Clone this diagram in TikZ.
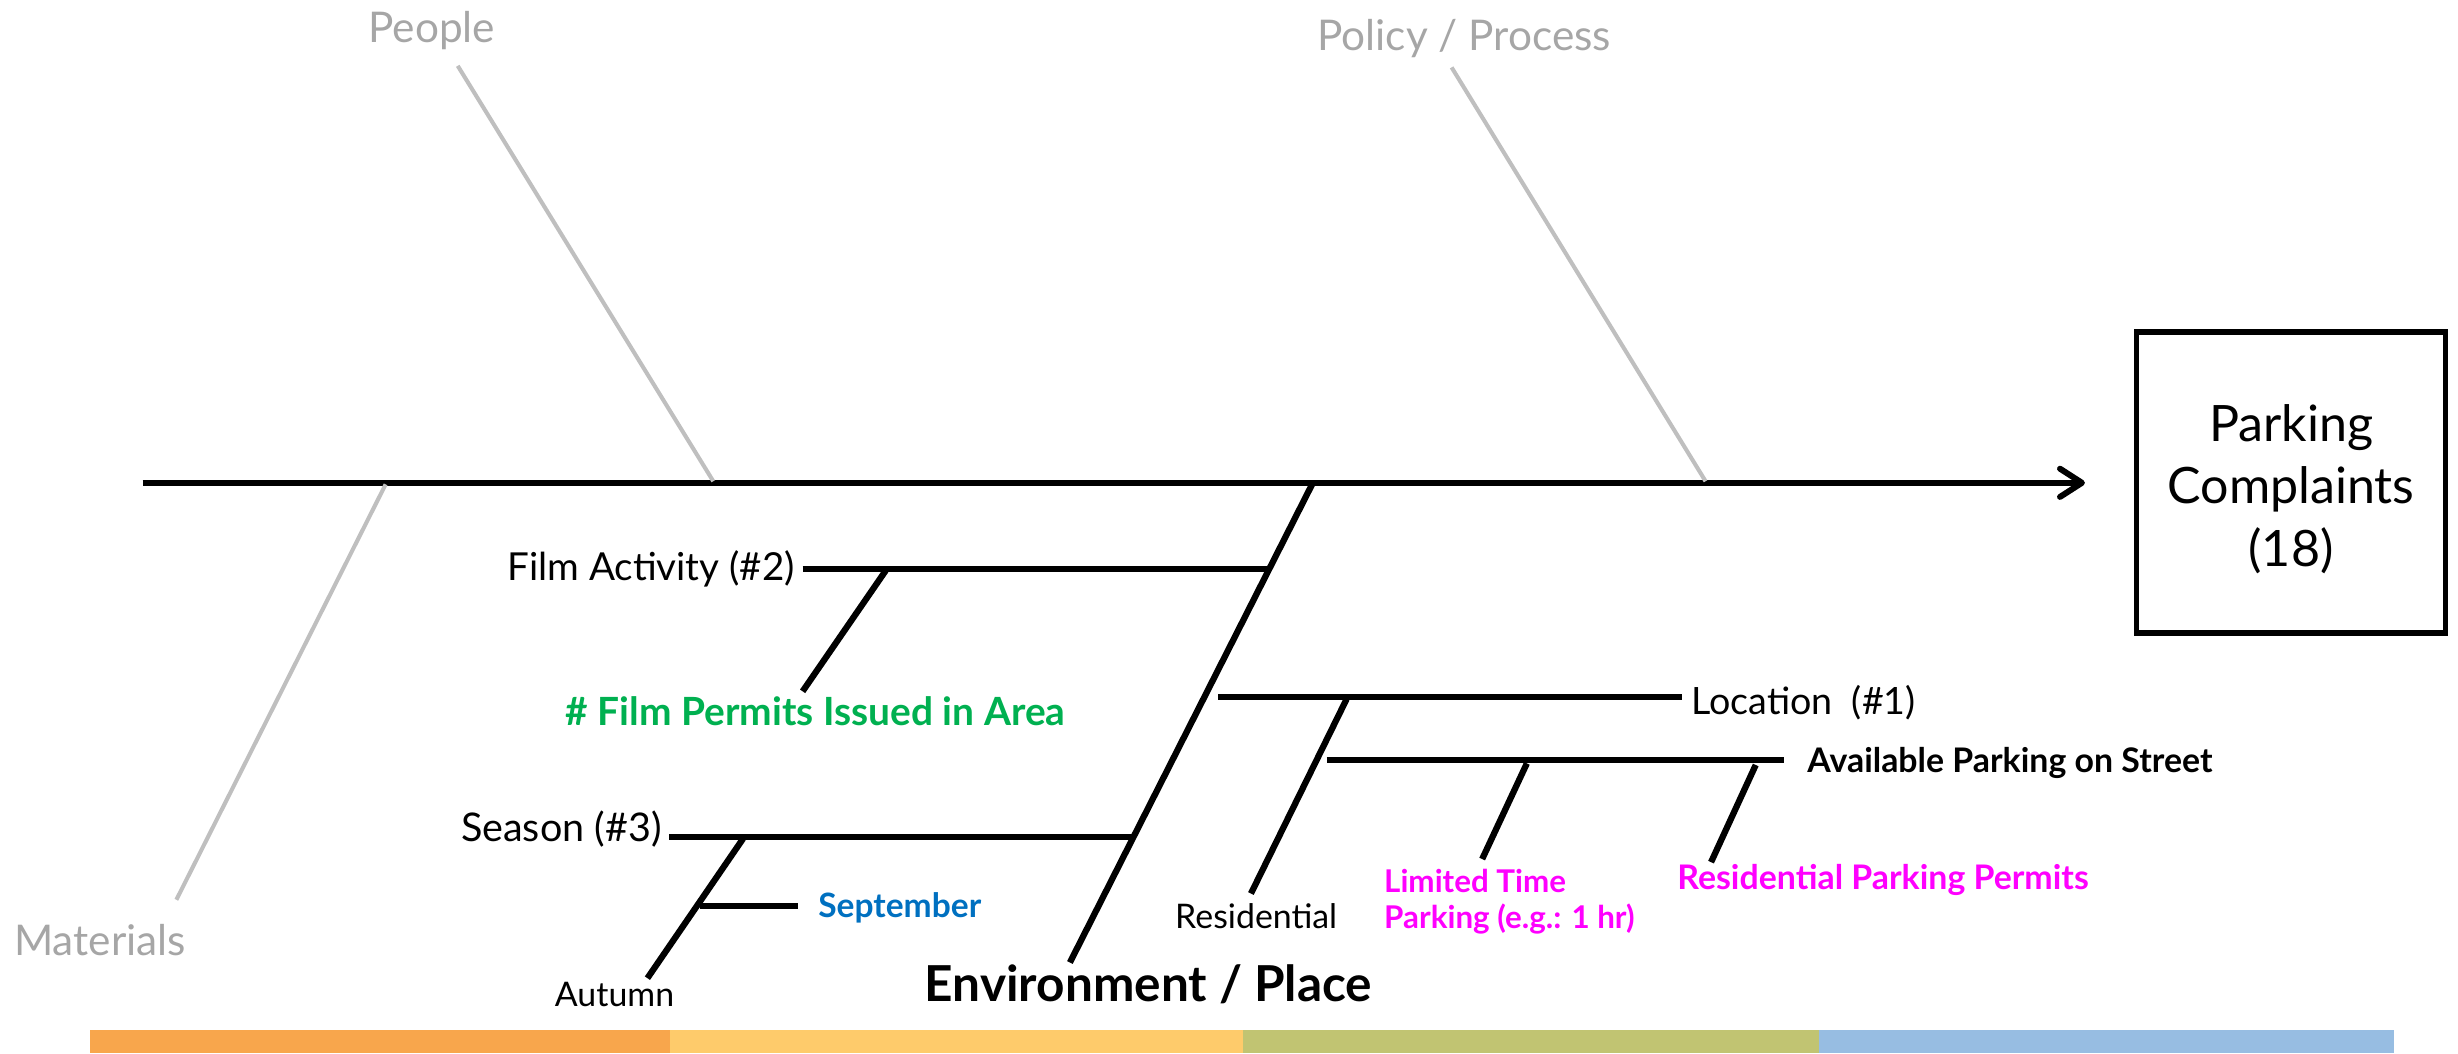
\documentclass[tikz,border=0pt]{standalone}
\usepackage{fontspec}
\setmainfont{Lato}
\usetikzlibrary{arrows.meta}
\definecolor{ggray}{HTML}{A6A6A6}
\definecolor{lgray}{HTML}{BFBFBF}
\definecolor{fgreen}{HTML}{00B050}
\definecolor{fblue}{HTML}{0070C0}
\definecolor{fmag}{HTML}{FF00FF}
\definecolor{barA}{HTML}{F8A64C}
\definecolor{barB}{HTML}{FECB6B}
\definecolor{barC}{HTML}{C1C472}
\definecolor{barD}{HTML}{97BDE2}
\begin{document}
\begin{tikzpicture}[x=0.5pt,y=-0.5pt,
  txt/.style={inner sep=0pt, outer sep=0pt},
  bone/.style={line width=2pt, black},
  spine/.style={line width=1.9pt, black},
  catline/.style={line width=1.3pt, lgray},
  catlbl/.style={txt, text=ggray, font=\fontsize{13.5}{16}\selectfont},
  lbl/.style={txt, font=\fontsize{12.3}{14}\selectfont},
  small/.style={txt, font=\fontsize{10.8}{13}\selectfont},
  boldlbl/.style={txt, font=\bfseries\fontsize{10.8}{12}\selectfont}
]
\useasboundingbox (0,0) rectangle (1568,672);

% bottom colour bar
\fill[barA] (57.5,657) rectangle (427.5,672);
\fill[barB] (427.5,657) rectangle (793,672);
\fill[barC] (793,657) rectangle (1160.5,672);
\fill[barD] (1160.5,657) rectangle (1527,672);

% effect box
\node[draw, line width=1.8pt, minimum width=98.5pt, minimum height=96pt, inner sep=0pt] (box) at (1461.5,308) {};
\node[txt, align=center, font=\fontsize{16}{20}\selectfont] (boxtxt) at (1461.5,312) {Parking\\Complaints\\(18)};

% spine
\coordinate (tail) at (91,308);
\coordinate (head) at (1330,308);
\draw[spine, -{Straight Barb[length=7pt,width=9pt,round]}] (tail) -- (head);

% category bones (gray)
\coordinate (peopleT) at (292,42);
\coordinate (peopleB) at (455,307);
\coordinate (policyT) at (926,43);
\coordinate (policyB) at (1088,307);
\coordinate (matT) at (246,309);
\coordinate (matB) at (112.5,574);
\draw[catline] (peopleT) -- (peopleB);
\draw[catline] (policyT) -- (policyB);
\draw[catline] (matT) -- (matB);
\node[catlbl, anchor=base] (people) at (275.5,27.4) {People};
\node[catlbl, anchor=base] (policy) at (934,32) {Policy / Process};
\node[catlbl, anchor=base west] (materials) at (9,609.6) {Materials};

% environment bone
\coordinate (envT) at (837,309);
\coordinate (envB) at (682.5,614);
\draw[bone] (envT) -- (envB);
\node[txt, anchor=base west, font=\bfseries\fontsize{15.8}{18}\selectfont] (env) at (590,639) {Environment / Place};

% Film activity
\coordinate (filmL) at (512,363);
\coordinate (filmR) at (809.6,363);
\draw[bone] (filmL) -- (filmR);
\node[lbl, anchor=base east] (film) at (507,370) {Film Activity (\#2)};
\coordinate (fpT) at (565,364);
\coordinate (fpB) at (512,441);
\draw[bone] (fpT) -- (fpB);
\node[txt, anchor=base west, text=fgreen, font=\bfseries\fontsize{12.4}{14}\selectfont] (permits) at (361,463) {\# Film Permits Issued in Area};

% Location
\coordinate (locL) at (777,444.6);
\coordinate (locR) at (1073,444.6);
\draw[bone] (locL) -- (locR);
\node[txt, anchor=base west, font=\fontsize{12}{14}\selectfont] (loc) at (1079,455.6) {Location\ \ (\#1)};
\coordinate (resT) at (859,446);
\coordinate (resB) at (798,570);
\draw[bone] (resT) -- (resB);
\node[small, anchor=base east] (res) at (853,592) {Residential};

% Available parking
\coordinate (avL) at (846.5,485);
\coordinate (avR) at (1138,485);
\draw[bone] (avL) -- (avR);
\node[boldlbl, anchor=base west] (avail) at (1153,492.6) {Available Parking on Street};
\coordinate (ltT) at (974,487);
\coordinate (ltB) at (945.5,548);
\draw[bone] (ltT) -- (ltB);
\node[txt, anchor=north west, align=left, text=fmag, font=\bfseries\fontsize{10}{11.5}\selectfont] (limited) at (883,554.4) {Limited Time\\Parking (e.g.: 1 hr)};
\coordinate (rpT) at (1120,488);
\coordinate (rpB) at (1091.5,550);
\draw[bone] (rpT) -- (rpB);
\node[boldlbl, anchor=base west, text=fmag] (rpp) at (1070,567.6) {Residential Parking Permits};

% Season
\coordinate (seaL) at (427,534);
\coordinate (seaR) at (722.7,534);
\draw[bone] (seaL) -- (seaR);
\node[txt, anchor=base east, font=\fontsize{12.6}{14}\selectfont] (season) at (422,537) {Season (\#3)};
\coordinate (auT) at (474,535);
\coordinate (auB) at (413,624);
\draw[bone] (auT) -- (auB);
\node[small, anchor=base west] (autumn) at (354,642) {Autumn};
\coordinate (sepL) at (446.5,578);
\coordinate (sepR) at (509,578);
\draw[bone] (sepL) -- (sepR);
\node[txt, anchor=base west, text=fblue, font=\bfseries\fontsize{10.7}{13}\selectfont] (sept) at (522,585) {September};
\end{tikzpicture}
\end{document}
